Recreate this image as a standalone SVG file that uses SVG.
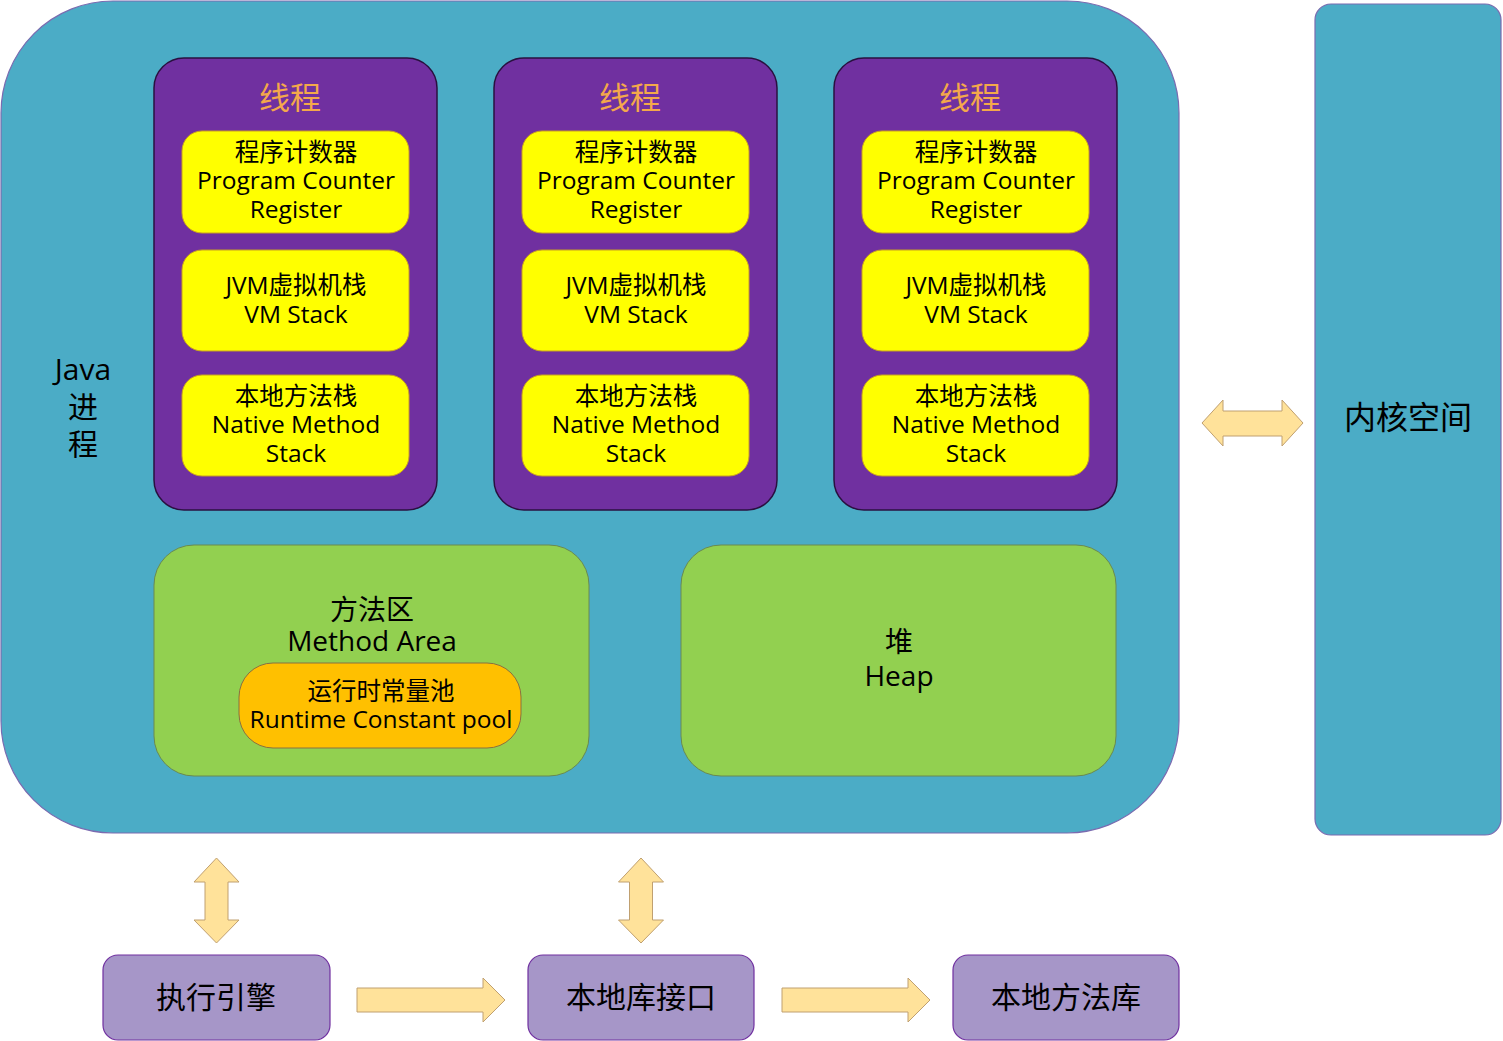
<svg xmlns="http://www.w3.org/2000/svg" width="1503" height="1041" viewBox="0 0 1503 1041">
<style>
text{font-family:"Open Sans","Noto Sans CJK SC",sans-serif;text-anchor:middle;fill:#000}
.thread{fill:#7030A0;stroke:#2a1040;stroke-width:1.5}
.yb{fill:#FFFF00;stroke:#C8A020;stroke-width:1}
.gb{fill:#92D050;stroke:#6A8A50;stroke-width:1}
.pb{fill:#A696C8;stroke:#7030A0;stroke-width:1.2}
.arr{fill:#FFE29A;stroke:#C0A070;stroke-width:1}
.t24{font-size:24.5px}
.t28{font-size:28px}
.t30{font-size:30px}
.title{font-size:31px;fill:#F4A84A}
</style>
<g id="java-process">
<rect x="1" y="1" width="1178" height="832" rx="112" fill="#4BACC6" stroke="#7A6BB0" stroke-width="1.2"/>
<text class="t30" x="83" y="380">Java<tspan x="83" dy="38">进</tspan><tspan x="83" dy="37">程</tspan></text>
</g>
<g id="kernel">
<rect x="1315" y="4" width="186" height="831" rx="16" fill="#4BACC6" stroke="#7A6BB0" stroke-width="1.2"/>
<text x="1408" y="429" font-size="32">内核空间</text>
</g>
<g id="thread1">
<rect class="thread" x="154" y="58" width="283" height="452" rx="30"/>
<text class="title" x="290" y="109">线程</text>
<rect class="yb" x="182" y="131" width="227" height="102" rx="20"/>
<text class="t24" x="296" y="161">程序计数器<tspan x="296" dy="28">Program Counter</tspan><tspan x="296" dy="29">Register</tspan></text>
<rect class="yb" x="182" y="250" width="227" height="101" rx="20"/>
<text class="t24" x="296" y="294">JVM虚拟机栈<tspan x="296" dy="29">VM Stack</tspan></text>
<rect class="yb" x="182" y="375" width="227" height="101" rx="20"/>
<text class="t24" x="296" y="405">本地方法栈<tspan x="296" dy="28">Native Method</tspan><tspan x="296" dy="29">Stack</tspan></text>
</g>
<g id="thread2">
<rect class="thread" x="494" y="58" width="283" height="452" rx="30"/>
<text class="title" x="630" y="109">线程</text>
<rect class="yb" x="522" y="131" width="227" height="102" rx="20"/>
<text class="t24" x="636" y="161">程序计数器<tspan x="636" dy="28">Program Counter</tspan><tspan x="636" dy="29">Register</tspan></text>
<rect class="yb" x="522" y="250" width="227" height="101" rx="20"/>
<text class="t24" x="636" y="294">JVM虚拟机栈<tspan x="636" dy="29">VM Stack</tspan></text>
<rect class="yb" x="522" y="375" width="227" height="101" rx="20"/>
<text class="t24" x="636" y="405">本地方法栈<tspan x="636" dy="28">Native Method</tspan><tspan x="636" dy="29">Stack</tspan></text>
</g>
<g id="thread3">
<rect class="thread" x="834" y="58" width="283" height="452" rx="30"/>
<text class="title" x="970" y="109">线程</text>
<rect class="yb" x="862" y="131" width="227" height="102" rx="20"/>
<text class="t24" x="976" y="161">程序计数器<tspan x="976" dy="28">Program Counter</tspan><tspan x="976" dy="29">Register</tspan></text>
<rect class="yb" x="862" y="250" width="227" height="101" rx="20"/>
<text class="t24" x="976" y="294">JVM虚拟机栈<tspan x="976" dy="29">VM Stack</tspan></text>
<rect class="yb" x="862" y="375" width="227" height="101" rx="20"/>
<text class="t24" x="976" y="405">本地方法栈<tspan x="976" dy="28">Native Method</tspan><tspan x="976" dy="29">Stack</tspan></text>
</g>
<g id="method-area">
<rect class="gb" x="154" y="545" width="435" height="231" rx="40"/>
<text class="t28" x="372" y="620">方法区<tspan x="372" dy="31">Method Area</tspan></text>
<rect x="239" y="663" width="282" height="85" rx="34" fill="#FFC000" stroke="#8A7040" stroke-width="1"/>
<text class="t24" x="381" y="700">运行时常量池<tspan x="381" dy="28">Runtime Constant pool</tspan></text>
</g>
<g id="heap">
<rect class="gb" x="681" y="545" width="435" height="231" rx="40"/>
<text class="t28" x="899" y="652">堆<tspan x="899" dy="34">Heap</tspan></text>
</g>
<g id="exec-engine">
<rect class="pb" x="103" y="955" width="227" height="85" rx="15"/>
<text class="t30" x="216" y="1008">执行引擎</text>
</g>
<g id="native-interface">
<rect class="pb" x="528" y="955" width="226" height="85" rx="15"/>
<text class="t30" x="641" y="1008">本地库接口</text>
</g>
<g id="native-lib">
<rect class="pb" x="953" y="955" width="226" height="85" rx="15"/>
<text class="t30" x="1066" y="1008">本地方法库</text>
</g>
<g id="connectors">
<path class="arr" d="M1202,423 L1223,400 L1223,411 L1282,411 L1282,400 L1303,423 L1282,446 L1282,436 L1223,436 L1223,446 Z"/>
<path class="arr" d="M216.5,858 L239,882 L228,882 L228,920 L239,920 L216.5,943 L194,920 L205,920 L205,882 L194,882 Z"/>
<path class="arr" d="M641,858 L663.5,882 L652.5,882 L652.5,920 L663.5,920 L641,943 L618.5,920 L629.5,920 L629.5,882 L618.5,882 Z"/>
<path class="arr" d="M357,988 L483,988 L483,978 L505,1000 L483,1022 L483,1012 L357,1012 Z"/>
<path class="arr" d="M782,988 L908,988 L908,978 L930,1000 L908,1022 L908,1012 L782,1012 Z"/>
</g>
</svg>
